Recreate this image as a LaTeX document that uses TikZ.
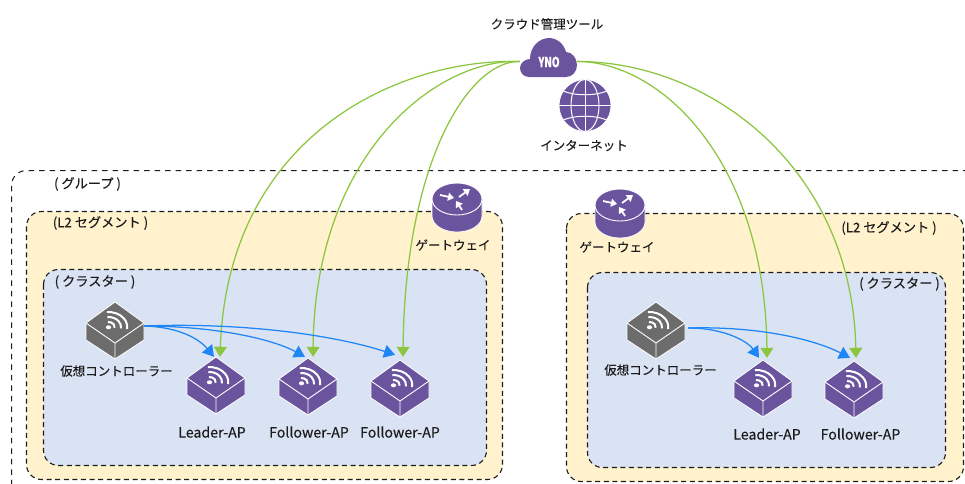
\documentclass[tikz,border=0pt]{standalone}
\usepackage{fontspec}
\setmainfont[FakeBold=0.12]{Noto Sans CJK JP}
\usetikzlibrary{arrows.meta}
\definecolor{devpurple}{HTML}{6B549E}
\definecolor{devgray}{HTML}{6C6C6C}
\definecolor{segfill}{HTML}{FFF2CC}
\definecolor{clufill}{HTML}{DAE3F3}
\definecolor{linkgreen}{HTML}{8CC63F}
\definecolor{linkblue}{HTML}{1E86F5}
\definecolor{ink}{HTML}{1C1C1C}
\tikzset{
  x=1pt,y=1pt,
  zone/.style={draw=ink,line width=1.1pt,dash pattern=on 5pt off 3.6pt,rounded corners=15pt},
  lbl/.style={font=\fontsize{12.5}{14}\selectfont,text=ink,inner sep=0pt},
  plbl/.style={font=\fontsize{13.2}{14}\selectfont,text=ink,inner sep=0pt},
  latlbl/.style={font=\fontsize{14.2}{15}\selectfont,text=ink,inner sep=0pt},
  devbox/.style={minimum width=58pt,minimum height=57pt,inner sep=0pt},
  gwbox/.style={inner sep=0pt,minimum width=50pt,minimum height=46pt},
  green link/.style={draw=linkgreen,line width=1.25pt,-{Triangle[length=10pt,width=13pt]}},
  blue link/.style={draw=linkblue,line width=1.25pt,-{Triangle[length=11pt,width=13pt]}},
  rarrow/.style={draw=white,line width=1.8pt,-{Triangle[length=6pt,width=8pt]}},
  pics/cube/.style={code={
    \fill[#1,draw=white,line width=.8pt,line join=round]
      (0,28.5)--(29,7.5)--(29,-9.5)--(0,-28.5)--(-29,-9.5)--(-29,7.5)--cycle;
    \draw[white,line width=.9pt] (-29,7.5)--(0,-12.5)--(29,7.5) (0,-12.5)--(0,-28.5);
    \fill[white] (-6.5,3.2) ellipse [x radius=2.6pt,y radius=2pt];
    \foreach \r in {5,10,15}{
      \draw[white,line width=2pt] (-6.5,3.5)++(95:1.25*\r pt and \r pt) arc [start angle=95,end angle=-8,x radius=1.25*\r pt,y radius=\r pt];
    }
  }},
  pics/router/.style={code={
    \fill[devpurple,draw=white,line width=.7pt] (-25,4) -- (-25,-13) arc [start angle=180,end angle=360,x radius=25pt,y radius=16pt] -- (25,4) -- cycle;
    \fill[devpurple,draw=white,line width=.9pt] (0,4) ellipse [x radius=25pt,y radius=16pt];
    \draw[rarrow] (-17,8)--(-3,5);
    \draw[rarrow] (2,6)--(13,14);
    \draw[rarrow] (5,-7)--(-1,2);
  }},
}
\begin{document}
\begin{tikzpicture}
\useasboundingbox (0,0) rectangle (965,-483);
\clip (0,0) rectangle (965,-483);
% zones
\draw[zone,line width=1pt,dash pattern=on 5.5pt off 5pt] (1000,-170.5) -- (11.5,-170.5) -- (11.5,-520);
\draw[zone,fill=segfill] (26.5,-211.5) rectangle (502.5,-479.5);
\draw[zone,fill=segfill] (566.5,-213.5) rectangle (963.5,-481.5);
\draw[zone,fill=clufill] (43.5,-269.5) rectangle (486.5,-465.5);
\draw[zone,fill=clufill] (587.5,-272.5) rectangle (945.5,-467.5);

% devices
\node[devbox] (vc1) at (115,-330.5) {}; \pic at (vc1) {cube=devgray};
\node[devbox] (ap1) at (216,-385.5) {}; \pic at (ap1) {cube=devpurple};
\node[devbox] (ap2) at (308,-386.5) {}; \pic at (ap2) {cube=devpurple};
\node[devbox] (ap3) at (400,-388.5) {}; \pic at (ap3) {cube=devpurple};
\node[devbox] (vc2) at (656,-330.5) {}; \pic at (vc2) {cube=devgray};
\node[devbox] (ap4) at (763,-388.5) {}; \pic at (ap4) {cube=devpurple};
\node[devbox] (ap5) at (854,-389.5) {}; \pic at (ap5) {cube=devpurple};
\node[gwbox] (gw1) at (457,-203) {}; \pic at (gw1) {router};
\node[gwbox] (gw2) at (620,-209) {}; \pic at (gw2) {router};

% cloud
\node[inner sep=0pt,minimum width=57pt,minimum height=39pt] (cloud) at (548.5,-57.5) {};
\fill[devpurple] (529,-77) .. controls (523,-77) and (520,-72) .. (520,-68)
  .. controls (520,-63) and (525,-59) .. (530,-59)
  .. controls (530,-46) and (540,-38) .. (549,-38)
  .. controls (557,-38) and (564,-44) .. (566,-52)
  .. controls (572,-52) and (577,-58) .. (577,-65)
  .. controls (577,-72) and (572,-77) .. (566,-77) -- cycle;
\node[font=\fontsize{14}{15}\selectfont\bfseries,text=white,inner sep=0pt] (yno) at (549,-62) {\scalebox{.7}[1]{YNO}};

% globe
\node[circle,fill=devpurple,draw=white,line width=.7pt,minimum size=52pt,inner sep=0pt] (globe) at (585,-105.5) {};
\begin{scope}[white,line width=1pt]
  \clip (585,-105.5) circle [radius=26pt];
  \draw (559,-105.5)--(611,-105.5) (585,-79)--(585,-132);
  \draw (585,-105.5) ellipse [x radius=14pt,y radius=26pt];
  \draw (563,-91) .. controls (575,-96) and (595,-96) .. (607,-91);
  \draw (563,-120) .. controls (575,-115) and (595,-115) .. (607,-120);
\end{scope}

% links
\draw[green link] ([yshift=-4pt]cloud.west) .. controls +(-120,3.5) and +(8,222) .. ([xshift=4pt]ap1.north);
\draw[green link] ([yshift=-4pt]cloud.west) .. controls +(-80,3.5) and +(2,207) .. ([xshift=5pt,yshift=1pt]ap2.north);
\draw[green link] ([yshift=-4pt]cloud.west) .. controls +(-50,1.5) and +(2,197) .. ([xshift=3pt,yshift=3pt]ap3.north);
\draw[green link] ([yshift=-4pt]cloud.east) .. controls +(83,0) and +(-2,198) .. ([xshift=4pt,yshift=2pt]ap4.north);
\draw[green link] ([yshift=-4pt]cloud.east) .. controls +(133,0) and +(-4,190) .. ([xshift=2pt,yshift=3pt]ap5.north);
\draw[blue link] ([yshift=4.5pt]vc1.east) .. controls +(36,-1) and +(-14,17) .. ([xshift=-2pt]ap1.north);
\draw[blue link] ([yshift=4.5pt]vc1.east) .. controls +(66,0) and +(-35,19) .. ([xshift=-3pt,yshift=1pt]ap2.north);
\draw[blue link] ([yshift=4.5pt]vc1.east) .. controls +(106,4) and +(-55,18) .. ([xshift=-5pt,yshift=5pt]ap3.north);
\draw[blue link] ([xshift=3pt,yshift=2.5pt]vc2.east) .. controls +(37,0) and +(-11,16) .. ([xshift=-4pt,yshift=2pt]ap4.north);
\draw[blue link] ([xshift=3pt,yshift=2.5pt]vc2.east) .. controls +(72,2) and +(-35,18) .. ([xshift=-4pt,yshift=3pt]ap5.north);

% labels
\node[lbl] (t1) at (547,-24) {クラウド管理ツール};
\node[lbl] (t2) at (584,-145.5) {インターネット};
\node[plbl] (t3) at (87.5,-184) {( グループ )};
\node[plbl] (t4) at (100.5,-223) {(L2 セグメント )};
\node[plbl] (t5) at (95,-282) {( クラスター )};
\node[lbl] (t6) at (453,-245) {ゲートウェイ};
\node[lbl] (t7) at (617,-247) {ゲートウェイ};
\node[plbl] (t8) at (889,-228) {(L2 セグメント )};
\node[plbl] (t9) at (899.5,-284) {( クラスター )};
\node[lbl] (t10) at (116.5,-371) {仮想コントローラー};
\node[lbl] (t11) at (660.5,-370) {仮想コントローラー};
\node[latlbl] (t12) at (212,-432) {Leader-AP};
\node[latlbl] (t13) at (309,-432) {Follower-AP};
\node[latlbl] (t14) at (400,-432) {Follower-AP};
\node[latlbl] (t15) at (767,-434) {Leader-AP};
\node[latlbl] (t16) at (860.5,-434) {Follower-AP};
\end{tikzpicture}
\end{document}
